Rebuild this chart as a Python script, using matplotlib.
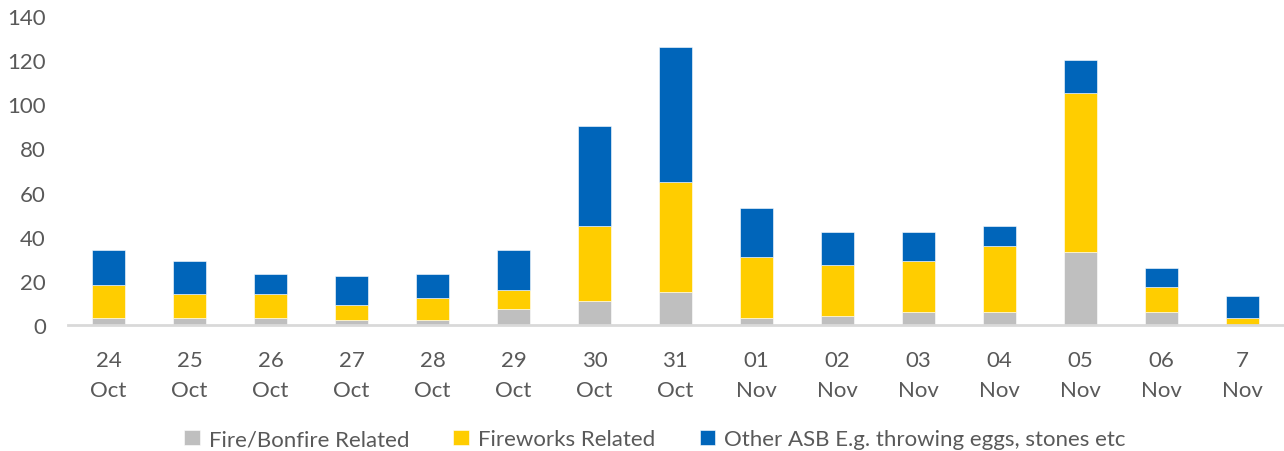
import matplotlib.pyplot as plt
import numpy as np

plt.rcParams["font.family"] = ["Lato", "DejaVu Sans"]

# Daily counts by category
dates = ["24\nOct", "25\nOct", "26\nOct", "27\nOct", "28\nOct", "29\nOct", "30\nOct",
         "31\nOct", "01\nNov", "02\nNov", "03\nNov", "04\nNov", "05\nNov", "06\nNov", "7\nNov"]
fire = [3, 3, 3, 2, 2, 7, 11, 15, 3, 4, 6, 6, 33, 6, 0]
fireworks = [15, 11, 11, 7, 10, 9, 34, 50, 28, 23, 23, 30, 72, 11, 3]
other = [16, 15, 9, 13, 11, 18, 45, 61, 22, 15, 13, 9, 15, 9, 10]

series = [
    ("Fire/Bonfire Related", fire, "#BFBFBF"),
    ("Fireworks Related", fireworks, "#FFCD00"),
    ("Other ASB E.g. throwing eggs, stones etc", other, "#0065BA"),
]

text_col = "#595959"

fig = plt.figure(figsize=(12.84, 4.52), dpi=100)
ax = fig.add_axes([0.053, 0.279, 0.946, 0.683])

x = np.arange(len(dates))
bottom = np.zeros(len(dates))
for name, vals, col in series:
    ax.bar(x, vals, 0.41, bottom=bottom, color=col, label=name,
           edgecolor="white", linewidth=0.4)
    bottom += np.array(vals)

ax.set_xlim(-0.5, len(dates) - 0.5)
ax.set_ylim(0, 140)
ax.set_yticks(range(0, 141, 20))
ax.set_xticks(x)
ax.set_xticklabels(dates, linespacing=1.65)
ax.tick_params(length=0, labelsize=16, colors=text_col)
ax.tick_params(axis="x", pad=18)
ax.tick_params(axis="y", pad=16)

for s in ["top", "right", "left"]:
    ax.spines[s].set_visible(False)
ax.spines["bottom"].set_color("#D9D9D9")
ax.spines["bottom"].set_linewidth(2)

leg = fig.legend(loc="lower center", bbox_to_anchor=(0.51, -0.04), ncol=3,
                 frameon=False, fontsize=16, handlelength=0.7, handleheight=0.7,
                 handletextpad=0.4, columnspacing=2.0)
for t in leg.get_texts():
    t.set_color(text_col)

fig.savefig("out.png", dpi=100)
